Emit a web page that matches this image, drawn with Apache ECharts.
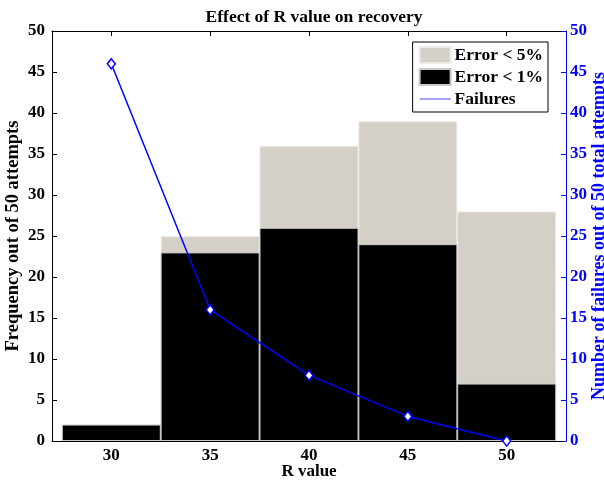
<!DOCTYPE html>
<html>
<head>
<meta charset="utf-8">
<script src="https://cdn.jsdelivr.net/npm/echarts@6/dist/echarts.min.js"></script>
<style>html,body{margin:0;padding:0;background:#fff}#c{width:604px;height:481px}</style>
</head>
<body>
<div id="c"></div>
<script>
const rValues = [30, 35, 40, 45, 50];
const errorBelow5 = [2, 25, 36, 39, 28];
const errorBelow1 = [2, 23, 26, 24, 7];
const failures = [46, 16, 8, 3, 0];
const yTicks = [0, 5, 10, 15, 20, 25, 30, 35, 40, 45, 50];

const FONT = 'Liberation Serif';
const chart = echarts.init(document.getElementById('c'), null, {renderer: 'canvas'});
const pair = arr => rValues.map((r, i) => [r, arr[i]]);

chart.setOption({
  animation: false,
  backgroundColor: '#fff',
  textStyle: {fontFamily: FONT, fontWeight: 'bold'},
  title: {
    text: 'Effect of R value on recovery',
    left: 309, top: 3, textAlign: 'center',
    textStyle: {fontFamily: FONT, fontWeight: 'bold', fontSize: 17.5, color: '#000'}
  },
  grid: {left: 52, right: 38, top: 31, bottom: 40, containLabel: false, outerBoundsMode: 'none'},
  legend: {
    orient: 'vertical',
    right: 56, top: 42,
    backgroundColor: '#fff',
    borderColor: '#000', borderWidth: 1,
    padding: [4, 5, 4, 6],
    itemGap: 4,
    itemWidth: 31, itemHeight: 16,
    textStyle: {fontFamily: FONT, fontWeight: 'bold', fontSize: 17.5, color: '#000', padding: [0, 0, 0, -1]},
    data: [
      {name: 'Error < 5%', icon: 'rect'},
      {name: 'Error < 1%', icon: 'rect'},
      {name: 'Failures', icon: 'path://M0,0L31,0L31,1L0,1Z', itemStyle: {color: '#4646ff', borderWidth: 0}, lineStyle: {opacity: 0}}
    ]
  },
  xAxis: [{
    type: 'value', min: 27, max: 53,
    name: 'R value', nameLocation: 'middle', nameGap: 22, nameMoveOverlap: false,
    nameTextStyle: {fontFamily: FONT, fontWeight: 'bold', fontSize: 17, color: '#000'},
    axisLine: {onZero: false, lineStyle: {color: '#000', width: 1}},
    axisTick: {inside: true, length: 5, lineStyle: {color: '#000'}, customValues: rValues},
    axisLabel: {customValues: rValues, fontFamily: FONT, fontWeight: 'bold', fontSize: 17, color: '#000', margin: 6},
    splitLine: {show: false}
  }, {
    type: 'value', min: 27, max: 53, position: 'top',
    axisLine: {onZero: false, lineStyle: {color: '#000', width: 1}},
    axisTick: {inside: true, length: 5, lineStyle: {color: '#000'}, customValues: rValues},
    axisLabel: {show: false},
    splitLine: {show: false}
  }],
  yAxis: [{
    type: 'value', min: 0, max: 50, interval: 5,
    name: 'Frequency out of 50 attempts', nameLocation: 'middle', nameGap: 29, nameRotate: 90, nameMoveOverlap: false,
    nameTextStyle: {fontFamily: FONT, fontWeight: 'bold', fontSize: 18.5, color: '#000'},
    axisLine: {show: true, onZero: false, lineStyle: {color: '#000', width: 1}},
    axisTick: {show: true, inside: true, length: 5, lineStyle: {color: '#000'}},
    axisLabel: {fontFamily: FONT, fontWeight: 'bold', fontSize: 17, color: '#000', margin: 7},
    splitLine: {show: false}
  }, {
    type: 'value', min: 0, max: 50, interval: 5, position: 'right',
    name: 'Number of failures out of 50 total attempts', nameLocation: 'middle', nameGap: 24, nameRotate: 90, nameMoveOverlap: false,
    nameTextStyle: {fontFamily: FONT, fontWeight: 'bold', fontSize: 18, color: '#0000ff'},
    axisLine: {show: true, onZero: false, lineStyle: {color: '#0000ff', width: 1}},
    axisTick: {show: true, inside: true, length: 5, lineStyle: {color: '#0000ff'}},
    axisLabel: {fontFamily: FONT, fontWeight: 'bold', fontSize: 17, color: '#0000ff', margin: 4},
    splitLine: {show: false}
  }],
  series: [{
    name: 'Error < 5%', type: 'bar', xAxisIndex: 0, yAxisIndex: 0,
    data: pair(errorBelow5), barWidth: 99, barGap: '-100%',
    itemStyle: {color: '#d4d0c8', borderColor: '#ecebe6', borderWidth: 1},
    z: 1
  }, {
    name: 'Error < 1%', type: 'bar', xAxisIndex: 0, yAxisIndex: 0,
    data: pair(errorBelow1), barWidth: 99, barGap: '-100%',
    itemStyle: {color: '#000', borderColor: '#c8c8c8', borderWidth: 1},
    z: 2
  }, {
    name: 'Failures', type: 'line', xAxisIndex: 0, yAxisIndex: 1,
    data: pair(failures),
    symbol: 'diamond', symbolSize: [8, 10],
    lineStyle: {color: '#0000ff', width: 1.5},
    itemStyle: {color: '#fff', borderColor: '#0000ff', borderWidth: 1.5},
    z: 5
  }]
});
</script>
</body>
</html>
